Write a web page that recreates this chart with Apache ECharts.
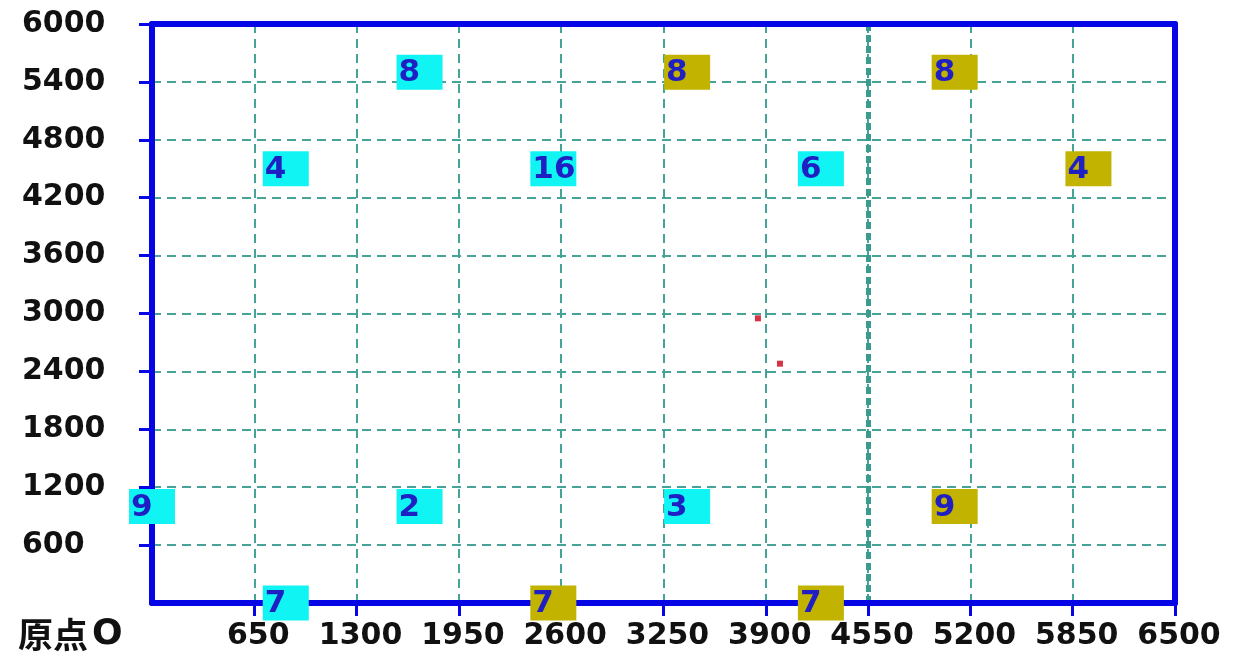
<!DOCTYPE html>
<html>
<head>
<meta charset="utf-8">
<script src="https://cdn.jsdelivr.net/npm/echarts@6/dist/echarts.min.js"></script>
<style>
  html, body { margin: 0; padding: 0; background: #fff; }
  #chart { width: 1237px; height: 657px; }
</style>
</head>
<body>
<div id="chart"></div>
<script>
// Axis ranges and tick steps
const X_MAX = 6500, X_STEP = 650;
const Y_MAX = 6000, Y_STEP = 600;
const originLabel = ['原点', 'O'];
const emphasisX = 4550;

// Cyan counters: x, y, count
const cyanX     = [1700, 850, 2550, 4250, 0, 1700, 3400, 850];
const cyanY     = [5500, 4500, 4500, 4500, 1000, 1000, 1000, 0];
const cyanCount = ['8', '4', '16', '6', '9', '2', '3', '7'];

// Olive counters: x, y, count
const oliveX     = [3400, 5100, 5950, 5100, 2550, 4250];
const oliveY     = [5500, 5500, 4500, 1000, 0, 0];
const oliveCount = ['8', '8', '4', '9', '7', '7'];

// Small red markers
const redX = [3850, 3990];
const redY = [2950, 2480];

const BLUE = '#0505e6';
const GRID = '#45a397';
const CYAN = '#10f4f4';
const OLIVE = '#c1b300';
const TEXT_BLUE = '#1f1fc4';

function boxes(xs, ys, labels) {
  return xs.map((x, i) => [x, ys[i], labels[i]]);
}

// tick marks everywhere except at the origin
function ticksFrom(step, max) {
  const out = [];
  for (let v = step; v <= max; v += step) out.push(v);
  return out;
}

const boxSeries = (name, data, color) => ({
  name: name,
  type: 'scatter',
  data: data,
  clip: false,
  symbol: 'rect',
  symbolSize: [46, 35],
  itemStyle: { color: color, opacity: 1 },
  label: {
    show: true,
    position: 'inside',
    align: 'left',
    verticalAlign: 'middle',
    offset: [-21, 1],
    formatter: p => p.value[2],
    fontFamily: 'DejaVu Sans',
    fontWeight: 'bold',
    fontSize: 31,
    color: TEXT_BLUE
  },
  emphasis: { disabled: true },
  z: 5
});

const hiddenAxisParts = {
  axisLine: { show: false }, axisTick: { show: false }, axisLabel: { show: false }
};

const chart = echarts.init(document.getElementById('chart'));
chart.setOption({
  animation: false,
  backgroundColor: '#ffffff',
  grid: { left: 152, right: 62, top: 24, bottom: 54 },
  xAxis: [
    {
      type: 'value', min: 0, max: X_MAX, interval: X_STEP,
      axisLine: { show: true, onZero: false, lineStyle: { color: BLUE, width: 6 } },
      axisTick: {
        show: true, length: 13, customValues: ticksFrom(X_STEP, X_MAX),
        lineStyle: { color: BLUE, width: 3 }
      },
      axisLabel: {
        formatter: v => (v === 0 ? '' : String(v)),
        fontFamily: 'DejaVu Sans', fontWeight: 'bold', fontSize: 30,
        color: '#111', margin: 18, padding: [0, 0, 0, 8]
      },
      splitLine: {
        show: true, showMinLine: true, showMaxLine: false,
        lineStyle: { color: GRID, type: [9, 6], width: 2 }
      }
    },
    {
      type: 'value', position: 'top', min: 0, max: X_MAX, interval: X_STEP,
      axisLine: { show: true, onZero: false, lineStyle: { color: BLUE, width: 6 } },
      axisTick: { show: false }, axisLabel: { show: false }, splitLine: { show: false }
    },
    Object.assign({
      // heavier dashed guide at one column
      type: 'value', position: 'bottom', min: 0, max: X_MAX, interval: emphasisX,
      splitLine: {
        show: true, showMinLine: false, showMaxLine: false,
        lineStyle: { color: '#3a9c8f', type: [7, 4], width: 5 }
      }
    }, hiddenAxisParts)
  ],
  yAxis: [
    {
      type: 'value', min: 0, max: Y_MAX, interval: Y_STEP,
      axisLine: { show: true, onZero: false, lineStyle: { color: BLUE, width: 6 } },
      axisTick: {
        show: true, length: 13, customValues: ticksFrom(Y_STEP, Y_MAX),
        lineStyle: { color: BLUE, width: 3 }
      },
      axisLabel: {
        formatter: v => (v === 0 ? '' : String(v)),
        align: 'left', margin: 130,
        fontFamily: 'DejaVu Sans', fontWeight: 'bold', fontSize: 30,
        color: '#111'
      },
      splitLine: {
        show: true, showMinLine: true, showMaxLine: false,
        lineStyle: { color: GRID, type: [9, 6], width: 2 }
      }
    },
    {
      type: 'value', position: 'right', min: 0, max: Y_MAX, interval: Y_STEP,
      axisLine: { show: true, onZero: false, lineStyle: { color: BLUE, width: 6 } },
      axisTick: { show: false }, axisLabel: { show: false }, splitLine: { show: false }
    }
  ],
  graphic: [
    {
      type: 'text', left: 18, top: 617,
      style: {
        text: '{a|' + originLabel[0] + '}{b|' + originLabel[1] + '}',
        rich: {
          a: { font: 'bold 35px "Noto Sans CJK SC"', fill: '#111' },
          b: { font: 'bold 36px "DejaVu Sans"', fill: '#111', padding: [0, 0, 0, 4] }
        }
      }
    }
  ],
  series: [
    boxSeries('cyan', boxes(cyanX, cyanY, cyanCount), CYAN),
    boxSeries('olive', boxes(oliveX, oliveY, oliveCount), OLIVE),
    {
      name: 'marks',
      type: 'scatter',
      data: redX.map((x, i) => [x, redY[i]]),
      symbol: 'rect',
      symbolSize: 6,
      itemStyle: { color: '#cc0018' },
      emphasis: { disabled: true },
      z: 6
    }
  ]
});
</script>
</body>
</html>
